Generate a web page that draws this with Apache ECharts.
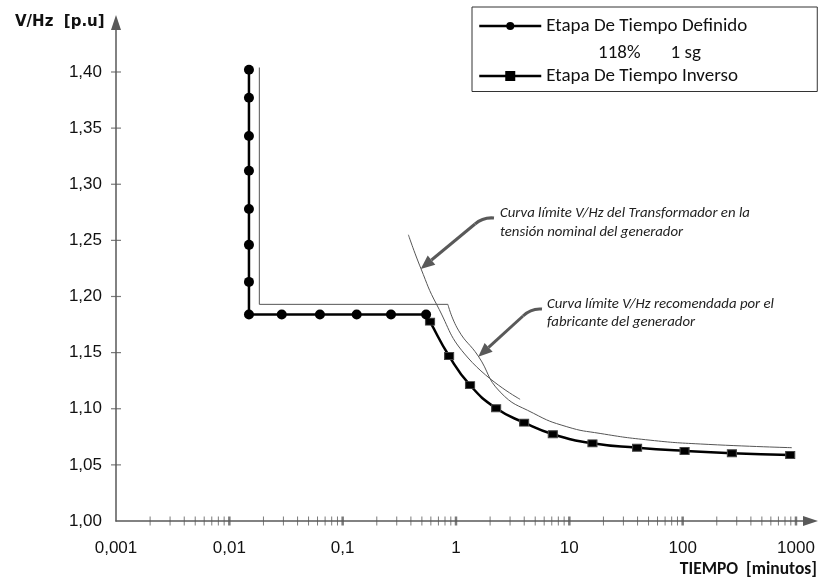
<!DOCTYPE html>
<html lang="es">

<head>
    <meta charset="UTF-8">
    <title>Curva V/Hz</title>
    <script src="https://cdn.jsdelivr.net/npm/echarts@6.0.0/dist/echarts.min.js"></script>
    <style>
        html, body { margin: 0; padding: 0; background: #fff; }
        #main { width: 825px; height: 583px; }
    </style>
</head>

<body>
    <div id="main"></div>
    <script>
        // ejes
        var xDecades = [0.001, 0.01, 0.1, 1, 10, 100, 1000];
        var xLabels = ['0,001', '0,01', '0,1', '1', '10', '100', '1000'];
        var xMinorSteps = [2, 3, 4, 5, 6, 7, 8, 9];
        var yTicks = [1.00, 1.05, 1.10, 1.15, 1.20, 1.25, 1.30, 1.35, 1.40];
        var yLabels = ['1,00', '1,05', '1,10', '1,15', '1,20', '1,25', '1,30', '1,35', '1,40'];

        // Etapa de tiempo definido (circulos)
        var definidoT = [0.0149, 0.0149, 0.0149, 0.0149, 0.0149, 0.0149, 0.0149, 0.0149, 0.029, 0.063, 0.133, 0.267, 0.545];
        var definidoV = [1.402, 1.377, 1.343, 1.312, 1.278, 1.246, 1.213, 1.184, 1.184, 1.184, 1.184, 1.184, 1.184];

        // Etapa de tiempo inverso (cuadrados), empieza en la esquina
        var inversoT = [0.545, 0.59, 0.869, 1.33, 2.26, 3.99, 7.15, 16.0, 39.6, 104, 272, 889];
        var inversoV = [1.184, 1.1776, 1.147, 1.121, 1.1004, 1.0876, 1.0773, 1.0692, 1.0653, 1.0624, 1.0603, 1.0588];

        // Curva limite del transformador
        var trafoT = [0.380, 0.489, 0.678, 1.28, 3.68];
        var trafoV = [1.255, 1.2252, 1.1925, 1.1452, 1.1084];

        // Curva limite recomendada por el fabricante
        var fabStepT = [0.0184, 0.0184, 0.848];
        var fabStepV = [1.404, 1.193, 1.193];
        var fabCurveT = [0.848, 1.05, 1.57, 2.45, 4.82, 9.5, 18.7, 51.6, 143, 920];
        var fabCurveV = [1.193, 1.170, 1.147, 1.115, 1.096, 1.084, 1.078, 1.072, 1.0686, 1.0653];

        function pairs(xs, ys) {
            var out = [];
            for (var i = 0; i < xs.length; i++) out.push([xs[i], ys[i]]);
            return out;
        }

        var inversoData = pairs(inversoT, inversoV);
        inversoData[0] = { value: inversoData[0], symbol: 'none' };

        // marcas de los ejes (cruzan la linea del eje)
        var xMajorTicks = xDecades.map(function (d) { return [d, 1.00]; });
        var xMinorTicks = [];
        xDecades.slice(0, -1).forEach(function (d) {
            xMinorSteps.forEach(function (s) { xMinorTicks.push([d * s, 1.00]); });
        });
        var yTickMarks = yTicks.slice(1).map(function (v) { return [0.001, v]; });

        var axisColor = '#595959';
        var calibri = 'Carlito, Lato, sans-serif';

        var chart = echarts.init(document.getElementById('main'));
        var option = {
            animation: false,
            grid: { left: 116, right: 14.5, top: 22.6, bottom: 62 },
            xAxis: {
                type: 'log',
                min: 0.001,
                max: 1343,
                interval: 1,
                axisLine: {
                    lineStyle: { color: axisColor, width: 1.5 },
                    symbol: ['none', 'triangle'],
                    symbolSize: [10, 15]
                },
                axisTick: { show: false },
                splitLine: { show: false },
                axisLabel: {
                    margin: 19,
                    fontFamily: 'Liberation Sans, Arial, sans-serif',
                    fontSize: 17,
                    color: '#111',
                    showMaxLabel: false,
                    formatter: function (v) {
                        for (var i = 0; i < xDecades.length; i++) {
                            if (Math.abs(v / xDecades[i] - 1) < 1e-6) return xLabels[i];
                        }
                        return '';
                    }
                }
            },
            yAxis: {
                type: 'value',
                min: 1.00,
                max: 1.444,
                interval: 0.05,
                axisLine: {
                    lineStyle: { color: axisColor, width: 1.5 },
                    symbol: ['none', 'triangle'],
                    symbolSize: [10, 15]
                },
                axisTick: { show: false },
                splitLine: { show: false },
                axisLabel: {
                    margin: 14,
                    fontFamily: 'Liberation Sans, Arial, sans-serif',
                    fontSize: 17,
                    color: '#111',
                    showMaxLabel: false,
                    formatter: function (v) {
                        for (var i = 0; i < yTicks.length; i++) {
                            if (Math.abs(v - yTicks[i]) < 1e-6) return yLabels[i];
                        }
                        return '';
                    }
                }
            },
            legend: {
                orient: 'vertical',
                left: 472,
                top: 7,
                data: [
                    {
                        name: 'Etapa De Tiempo Definido',
                        lineStyle: { color: '#000', width: 2.5 },
                        itemStyle: { color: '#000' }
                    },
                    {
                        name: 'Etapa De Tiempo Inverso',
                        lineStyle: { color: '#000', width: 2.5 },
                        itemStyle: { color: '#000', borderColor: '#000' }
                    }
                ],
                itemWidth: 62,
                itemHeight: 10,
                itemGap: 31,
                padding: [9.5, 70, 6, 6],
                borderColor: '#333',
                borderWidth: 1,
                selectedMode: false,
                textStyle: { fontFamily: calibri, fontSize: 19, color: '#111' }
            },
            series: [
                {
                    name: 'Curva limite transformador',
                    type: 'line',
                    data: pairs(trafoT, trafoV),
                    smooth: true,
                    symbol: 'none',
                    silent: true,
                    lineStyle: { color: '#555', width: 1 }
                },
                {
                    name: 'Curva limite fabricante',
                    type: 'line',
                    data: pairs(fabStepT, fabStepV),
                    symbol: 'none',
                    silent: true,
                    lineStyle: { color: '#555', width: 1 }
                },
                {
                    name: 'Curva limite fabricante (inversa)',
                    type: 'line',
                    data: pairs(fabCurveT, fabCurveV),
                    smooth: true,
                    symbol: 'none',
                    silent: true,
                    lineStyle: { color: '#555', width: 1 }
                },
                {
                    name: 'Etapa De Tiempo Inverso',
                    type: 'line',
                    data: inversoData,
                    smooth: true,
                    symbol: 'rect',
                    symbolSize: [9, 7],
                    showAllSymbol: true,
                    lineStyle: { color: '#000', width: 2.5 },
                    itemStyle: { color: '#000', borderColor: '#444', borderWidth: 1 },
                    z: 3
                },
                {
                    name: 'Etapa De Tiempo Definido',
                    type: 'line',
                    data: pairs(definidoT, definidoV),
                    symbol: 'circle',
                    symbolSize: 10,
                    showAllSymbol: true,
                    lineStyle: { color: '#000', width: 2.5 },
                    itemStyle: { color: '#000' },
                    z: 4
                },
                {
                    name: 'ticks x menores',
                    type: 'scatter',
                    data: xMinorTicks,
                    symbol: 'rect',
                    symbolSize: [1, 9],
                    itemStyle: { color: axisColor },
                    clip: false,
                    silent: true
                },
                {
                    name: 'ticks x',
                    type: 'scatter',
                    data: xMajorTicks.slice(1),
                    symbol: 'rect',
                    symbolSize: [2.5, 9],
                    itemStyle: { color: axisColor },
                    clip: false,
                    silent: true
                },
                {
                    name: 'ticks y',
                    type: 'scatter',
                    data: yTickMarks,
                    symbol: 'rect',
                    symbolSize: [10, 1.2],
                    itemStyle: { color: axisColor },
                    clip: false,
                    silent: true
                }
            ],
            graphic: [
                {
                    type: 'text', left: 15, top: 15,
                    style: { text: 'V/Hz  [p.u]', font: 'bold 15px "DejaVu Sans", sans-serif', fill: '#111' }
                },
                {
                    type: 'text', right: 8, top: 561,
                    style: { text: 'TIEMPO  [minutos]', font: 'bold 17.5px ' + calibri, fill: '#111' }
                },
                {
                    type: 'text', left: 598, top: 44,
                    style: { text: '118%       1 sg', font: '19px ' + calibri, fill: '#111' }
                },
                {
                    type: 'text', left: 500, top: 204,
                    style: {
                        text: 'Curva límite V/Hz del Transformador en la\ntensión nominal del generador',
                        font: 'italic 14.8px ' + calibri, fill: '#222', lineHeight: 19
                    }
                },
                {
                    type: 'text', left: 547, top: 295,
                    style: {
                        text: 'Curva límite V/Hz recomendada por el\nfabricante del generador',
                        font: 'italic 14.8px ' + calibri, fill: '#222', lineHeight: 18
                    }
                },
                // flechas de las anotaciones
                {
                    type: 'bezierCurve',
                    shape: { x1: 494, y1: 218, cpx1: 483, cpy1: 217, x2: 475, y2: 224 },
                    style: { stroke: '#595959', lineWidth: 3, fill: null }
                },
                {
                    type: 'line',
                    shape: { x1: 475, y1: 224, x2: 431.5, y2: 260 },
                    style: { stroke: '#595959', lineWidth: 3 }
                },
                {
                    type: 'polygon',
                    shape: { points: [[420.7, 269], [435.3, 264.7], [427.7, 255.5]] },
                    style: { fill: '#595959' }
                },
                {
                    type: 'bezierCurve',
                    shape: { x1: 542, y1: 309, cpx1: 531, cpy1: 308, x2: 523, y2: 316 },
                    style: { stroke: '#595959', lineWidth: 3, fill: null }
                },
                {
                    type: 'line',
                    shape: { x1: 523, y1: 316, x2: 488.6, y2: 347.3 },
                    style: { stroke: '#595959', lineWidth: 3 }
                },
                {
                    type: 'polygon',
                    shape: { points: [[478.3, 356.7], [492.6, 351.7], [484.6, 342.9]] },
                    style: { fill: '#595959' }
                }
            ]
        };
        chart.setOption(option);
    </script>
</body>

</html>
